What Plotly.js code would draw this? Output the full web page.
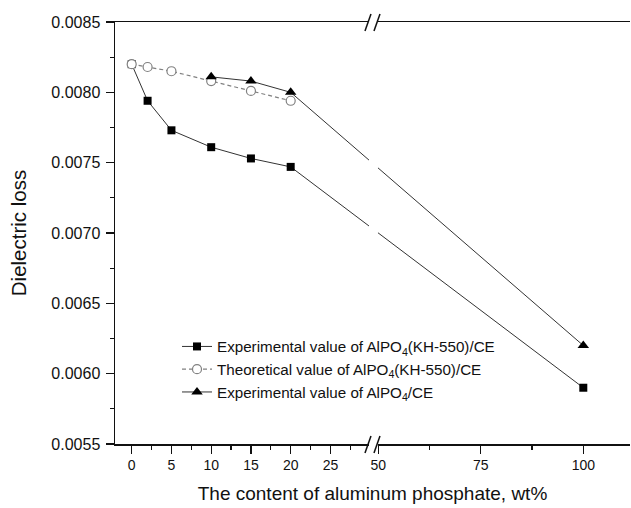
<!DOCTYPE html>
<html>
<head>
<meta charset="utf-8">
<script src="https://cdn.plot.ly/plotly-3.0.1.min.js"></script>
<style>
  html, body { margin: 0; padding: 0; background: #fff; }
  #chart { width: 631px; height: 508px; }
</style>
</head>
<body>
<div id="chart"></div>
<script>
// Dielectric loss vs. aluminum phosphate content (wt%)
const xExpKH550 = [0, 2, 5, 10, 15, 20, 100];
const lossExpKH550 = [0.00820, 0.00794, 0.00773, 0.00761, 0.00753, 0.00747, 0.00590];

const xTheoKH550 = [0, 2, 5, 10, 15, 20];
const lossTheoKH550 = [0.00820, 0.00818, 0.00815, 0.00808, 0.00801, 0.00794];

const xExpPlain = [10, 15, 20, 100];
const lossExpPlain = [0.00811, 0.00808, 0.00800, 0.00620];

const seriesNames = [
  'Experimental value of AlPO<sub>4</sub>(KH-550)/CE',
  'Theoretical value of AlPO<sub>4</sub>(KH-550)/CE',
  'Experimental value of AlPO<sub>4</sub>/CE'
];

const xTickValues = [0, 5, 10, 15, 20, 25, 50, 75, 100];
const xMinorValues = [2.5, 7.5, 12.5, 17.5, 22.5, 27.5, 62.5, 87.5];

// Broken x axis: 0–30 drawn at full scale, 48.7 onward compressed.
const SEG_LEFT_END = 30.35;
const SEG_RIGHT_START = 48.7;
const RIGHT_SCALE = 0.5157;
const X_RANGE = [-2.1, 62.68];
function brokenX(v) {
  return v <= SEG_LEFT_END ? v : SEG_LEFT_END + (v - SEG_RIGHT_START) * RIGHT_SCALE;
}
const breakPaper = (SEG_LEFT_END - X_RANGE[0]) / (X_RANGE[1] - X_RANGE[0]);

const FONT = '"Liberation Sans", Arial, sans-serif';
const INK = '#111';

const traces = [
  {
    x: xExpKH550.map(brokenX), y: lossExpKH550,
    name: seriesNames[0], type: 'scatter', mode: 'lines+markers',
    line: { color: '#333', width: 1 },
    marker: { symbol: 'square', size: 8, color: '#000' }
  },
  {
    x: xTheoKH550.map(brokenX), y: lossTheoKH550,
    name: seriesNames[1], type: 'scatter', mode: 'lines+markers',
    line: { color: '#808080', width: 1.2, dash: '4px,3px' },
    marker: { symbol: 'circle', size: 9, color: '#fff', line: { color: '#808080', width: 1.2 } }
  },
  {
    x: xExpPlain.map(brokenX), y: lossExpPlain,
    name: seriesNames[2], type: 'scatter', mode: 'lines+markers',
    line: { color: '#333', width: 1 },
    marker: { symbol: 'triangle-up', size: 10, color: '#000' }
  }
];

// Break gap and the "//" marks on the bottom and top axis lines
const shapes = [
  {
    type: 'rect', layer: 'above', xref: 'paper', yref: 'paper',
    xsizemode: 'pixel', xanchor: breakPaper, x0: -4, x1: 5,
    y0: -0.012, y1: 1.012,
    fillcolor: '#fff', line: { width: 0 }
  }
];
[0, 1].forEach(function (edge) {
  [[-8, -2], [1, 7]].forEach(function (pair) {
    shapes.push({
      type: 'line', layer: 'above', xref: 'paper', yref: 'paper',
      xsizemode: 'pixel', xanchor: breakPaper, x0: pair[0], x1: pair[1],
      ysizemode: 'pixel', yanchor: edge, y0: -9, y1: 8,
      line: { color: INK, width: 1.5 }
    });
  });
});

const layout = {
  width: 631, height: 508,
  margin: { l: 115, r: 1, t: 22, b: 64 },
  paper_bgcolor: '#fff', plot_bgcolor: '#fff',
  font: { family: FONT, color: INK, size: 15 },
  showlegend: true,
  legend: {
    x: 0.1204, y: 0.270, xanchor: 'left', yanchor: 'top',
    bgcolor: 'rgba(0,0,0,0)', borderwidth: 0,
    font: { family: FONT, size: 15.2, color: INK },
    tracegroupgap: 0
  },
  xaxis: {
    range: X_RANGE, fixedrange: true,
    showgrid: false, zeroline: false,
    showline: true, linecolor: INK, linewidth: 1.5, mirror: true,
    ticks: 'outside', ticklen: 8, tickwidth: 1.2, tickcolor: INK,
    tickmode: 'array',
    tickvals: xTickValues.map(brokenX),
    ticktext: xTickValues.map(String),
    tickfont: { family: FONT, size: 14, color: INK },
    minor: {
      tickmode: 'array', tickvals: xMinorValues.map(brokenX),
      ticks: 'outside', ticklen: 4, tickwidth: 1.2, tickcolor: INK, showgrid: false
    },
    title: { text: 'The content of aluminum phosphate, wt%', font: { family: FONT, size: 19, color: INK }, standoff: 14 }
  },
  yaxis: {
    range: [0.0055, 0.0085], fixedrange: true,
    showgrid: false, zeroline: false,
    showline: true, linecolor: INK, linewidth: 1.5, mirror: false,
    ticks: 'outside', ticklen: 8, tickwidth: 1.2, tickcolor: INK,
    tick0: 0.0055, dtick: 0.0005, tickformat: '.4f',
    ticklabelstandoff: 2,
    tickfont: { family: FONT, size: 16, color: INK },
    minor: { dtick: 0.00025, ticks: 'outside', ticklen: 4, tickwidth: 1.2, tickcolor: INK, showgrid: false },
    title: { text: 'Dielectric loss', font: { family: FONT, size: 20.5, color: INK }, standoff: 19 }
  },
  shapes: shapes
};

Plotly.newPlot('chart', traces, layout, { displayModeBar: false, staticPlot: true });
</script>
</body>
</html>
